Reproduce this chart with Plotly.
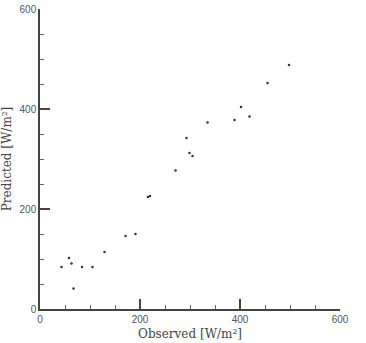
import plotly.graph_objects as go

observed = [43, 58, 63, 67, 84, 105, 129, 171, 191, 216, 220, 271, 293, 299, 305, 335, 389, 402, 419, 455, 498]
predicted = [84, 102, 91, 41, 84, 84, 114, 146, 150, 224, 226, 277, 342, 312, 306, 373, 378, 404, 385, 452, 488]

x_ticks = [0, 200, 400, 600]
y_ticks = [0, 200, 400, 600]

fig = go.Figure()
fig.add_trace(go.Scatter(
    x=observed, y=predicted, mode="markers",
    marker=dict(color="#333333", size=2.5),
    showlegend=False, hoverinfo="skip",
))

axis_common = dict(
    range=[0, 600],
    automargin=False,
    showgrid=False,
    zeroline=False,
    showline=True,
    linecolor="#444444",
    linewidth=1.5,
    ticks="inside",
    ticklen=10,
    tickwidth=1.5,
    tickcolor="#444444",
    tickfont=dict(family="Liberation Sans, Arial", size=10, color="#555555"),
    minor=dict(ticks="inside", ticklen=4, tickwidth=1, tickcolor="#666666", dtick=50, showgrid=False),
)

fig.update_layout(
    width=366, height=343,
    margin=dict(l=40, r=26, t=9, b=34),
    paper_bgcolor="white", plot_bgcolor="white",
    xaxis=dict(
        **axis_common,
        tickvals=x_ticks,
        ticktext=[str(v) for v in x_ticks],
        title=dict(text="Observed [W/m²]", font=dict(family="DejaVu Serif", size=12, color="#444444"), standoff=6),
    ),
    yaxis=dict(
        **axis_common,
        tickvals=y_ticks,
        ticktext=[str(v) for v in y_ticks],
        title=dict(text="Predicted [W/m²]", font=dict(family="DejaVu Serif", size=12, color="#444444"), standoff=6),
    ),
)

fig.write_html("out.html")
